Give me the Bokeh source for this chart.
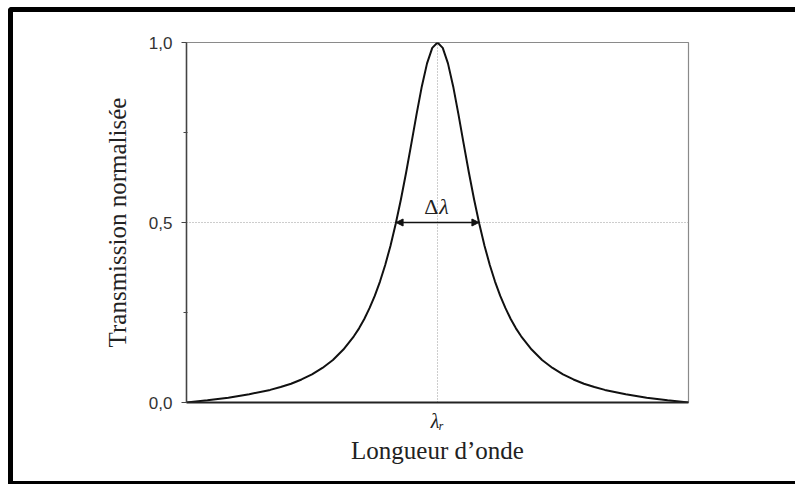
from bokeh.plotting import figure
from bokeh.models import (Range1d, FixedTicker, Label, Arrow, NormalHead)
from bokeh.embed import file_html
from bokeh.resources import INLINE
try:
    from bokeh.models import GlobalInlineStyleSheet as _Sheet
except ImportError:  # pragma: no cover
    from bokeh.models import InlineStyleSheet as _Sheet

# Wavelength offset from resonance (units of half-width) and normalised transmission
wavelength = [-6.0, -5.5, -5.0, -4.5, -4.0, -3.75, -3.5, -3.25, -3.0, -2.75, -2.5, -2.25,
              -2.0, -1.875, -1.75, -1.625, -1.5, -1.375, -1.25, -1.125, -1.0, -0.875,
              -0.75, -0.625, -0.5, -0.375, -0.25, -0.125, 0.0,
              0.125, 0.25, 0.375, 0.5, 0.625, 0.75, 0.875, 1.0, 1.125, 1.25, 1.375,
              1.5, 1.625, 1.75, 1.875, 2.0, 2.25, 2.5, 2.75, 3.0, 3.25, 3.5, 3.75,
              4.0, 4.5, 5.0, 5.5, 6.0]
transmission = [0.000, 0.006, 0.013, 0.023, 0.035, 0.043, 0.052, 0.064, 0.078, 0.096, 0.118, 0.147,
                0.184, 0.206, 0.232, 0.262, 0.296, 0.336, 0.382, 0.435, 0.496, 0.564,
                0.639, 0.719, 0.801, 0.878, 0.942, 0.985, 1.000,
                0.985, 0.942, 0.878, 0.801, 0.719, 0.639, 0.564, 0.496, 0.435, 0.382, 0.336,
                0.296, 0.262, 0.232, 0.206, 0.184, 0.147, 0.118, 0.096, 0.078, 0.064, 0.052, 0.043,
                0.035, 0.023, 0.013, 0.006, 0.000]

y_ticks = [0.0, 0.5, 1.0]
y_tick_labels = {0.0: "0,0", 0.5: "0,5", 1.0: "1,0"}
y_minor = [0.25, 0.75]
x_ticks = [0.0]
x_tick_labels = {0.0: "λᵣ"}
half_max = 0.5
fwhm_left, fwhm_right = -0.99, 0.99

p = figure(width=795, height=484, output_backend="svg", toolbar_location=None,
           x_range=Range1d(-6, 6), y_range=Range1d(0, 1),
           min_border_left=186, min_border_right=107, min_border_top=42, min_border_bottom=82,
           background_fill_color="white", border_fill_color="white")

# black page frame on the left, top and bottom (fixed overlay, no effect on layout)
frame_css = """
body::after {
  content: "";
  position: fixed;
  left: 8px; top: 7px; right: -20px; bottom: 0px;
  border-left: 5px solid #000000;
  border-top: 5px solid #000000;
  border-bottom: 3px solid #000000;
  border-top-left-radius: 4px;
  pointer-events: none;
  z-index: 10;
}
"""
p.stylesheets = [_Sheet(css=frame_css)]

p.outline_line_color = "#8a8a8a"
p.outline_line_width = 1.2

# grids
p.xgrid.ticker = FixedTicker(ticks=[0.0])
p.ygrid.ticker = FixedTicker(ticks=[0.5, 1.0])
for g in (p.xgrid[0], p.ygrid[0]):
    g.grid_line_color = "#9a9a9a"
    g.grid_line_dash = "1 2"
    g.grid_line_width = 1

# y axis
ya = p.yaxis[0]
ya.ticker = FixedTicker(ticks=y_ticks, minor_ticks=y_minor)
ya.major_label_overrides = y_tick_labels
ya.major_label_text_font = "Liberation Sans"
ya.major_label_text_font_size = "17px"
ya.major_label_text_color = "#333333"
ya.major_label_standoff = 9
ya.major_tick_out = 5
ya.major_tick_in = 0
ya.minor_tick_out = 3
ya.minor_tick_in = 1
ya.axis_line_color = "#444444"
ya.axis_line_width = 1.5
ya.major_tick_line_color = "#444444"
ya.minor_tick_line_color = "#444444"
ya.axis_label = "Transmission normalisée"
ya.axis_label_text_font = "Liberation Serif"
ya.axis_label_text_font_style = "normal"
ya.axis_label_text_font_size = "25px"
ya.axis_label_text_color = "#222222"
ya.axis_label_standoff = 15

# x axis
xa = p.xaxis[0]
xa.ticker = FixedTicker(ticks=x_ticks)
xa.major_label_overrides = x_tick_labels
xa.major_label_text_font = "Liberation Serif"
xa.major_label_text_font_style = "italic"
xa.major_label_text_font_size = "20px"
xa.major_label_text_color = "#222222"
xa.major_label_standoff = 7
xa.major_tick_out = 0
xa.major_tick_in = 0
xa.minor_tick_out = 0
xa.minor_tick_in = 0
xa.axis_line_color = "#222222"
xa.axis_line_width = 2
xa.axis_label = "Longueur d’onde"
xa.axis_label_text_font = "Liberation Serif"
xa.axis_label_text_font_style = "normal"
xa.axis_label_text_font_size = "25px"
xa.axis_label_text_color = "#222222"
xa.axis_label_standoff = 2

# curve
p.line(wavelength, transmission, line_color="#111111", line_width=2)

# FWHM arrow
p.add_layout(Arrow(x_start=fwhm_left, y_start=half_max, x_end=fwhm_right, y_end=half_max,
                   line_color="#111111", line_width=1.5,
                   start=NormalHead(size=7, fill_color="#111111", line_color="#111111"),
                   end=NormalHead(size=7, fill_color="#111111", line_color="#111111")))

p.add_layout(Label(x=0.02, y=0.544, text="Δ", text_align="right", text_baseline="middle",
                   text_font="Liberation Serif", text_font_size="22px", text_color="#222222"))
p.add_layout(Label(x=0.04, y=0.544, text="λ", text_align="left", text_baseline="middle",
                   text_font="Liberation Serif", text_font_style="italic",
                   text_font_size="22px", text_color="#222222"))

open("out.html", "w").write(file_html(p, INLINE))
